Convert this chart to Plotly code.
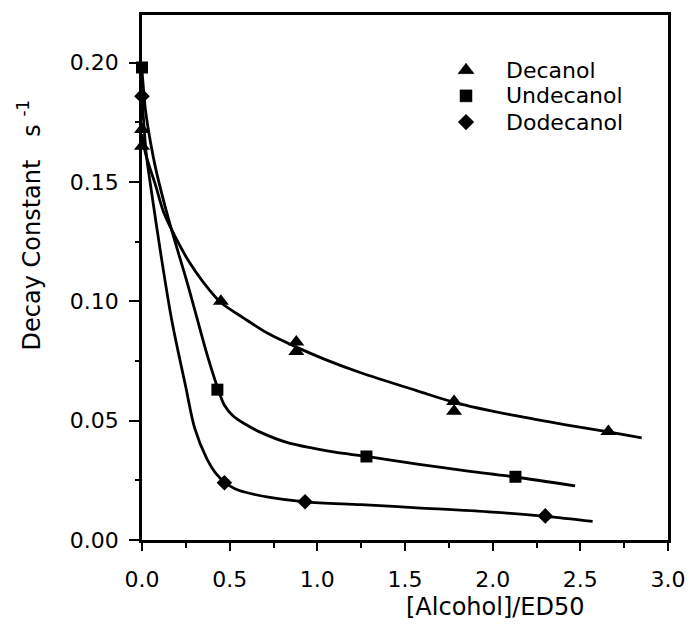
import plotly.graph_objects as go

# Measured decay constants (s^-1) versus relative alcohol concentration
dec_x = [0.0, 0.0, 0.45, 0.88, 0.88, 1.78, 1.78, 2.66]
dec_y = [0.165, 0.172, 0.100, 0.083, 0.079, 0.058, 0.054, 0.0455]

undec_x = [0.0, 0.43, 1.28, 2.13]
undec_y = [0.198, 0.063, 0.035, 0.0265]

dodec_x = [0.0, 0.47, 0.93, 2.30]
dodec_y = [0.186, 0.024, 0.016, 0.0101]

# Smooth fitted curves through each series
dec_fit_x = [0.0, 0.02, 0.08, 0.125, 0.19, 0.265, 0.35, 0.45, 0.58, 0.72, 0.89,
             1.05, 1.24, 1.57, 1.79, 2.10, 2.40, 2.66, 2.85]
dec_fit_y = [0.170, 0.162, 0.148, 0.137, 0.127, 0.117, 0.108, 0.0995, 0.093, 0.0865, 0.0805,
             0.0755, 0.0703, 0.0625, 0.0575, 0.0525, 0.0485, 0.0453, 0.0428]

undec_fit_x = [0.0, 0.02, 0.05, 0.08, 0.153, 0.265, 0.37, 0.435, 0.47, 0.52, 0.59, 0.68,
               0.83, 0.98, 1.10, 1.28, 1.57, 1.85, 2.12, 2.47]
undec_fit_y = [0.197, 0.180, 0.166, 0.155, 0.134, 0.106, 0.078, 0.063, 0.0565, 0.052, 0.0485, 0.045,
               0.0408, 0.0384, 0.0368, 0.0350, 0.0318, 0.029, 0.0265, 0.0227]

dodec_fit_x = [0.0, 0.024, 0.05, 0.107, 0.17, 0.25, 0.30, 0.37, 0.42, 0.47, 0.53, 0.59,
               0.72, 0.93, 1.25, 1.57, 2.00, 2.30, 2.57]
dodec_fit_y = [0.186, 0.162, 0.148, 0.120, 0.092, 0.064, 0.047, 0.034, 0.028, 0.0243, 0.0215, 0.0200,
               0.018, 0.016, 0.0148, 0.0135, 0.0117, 0.0099, 0.0078]

series_names = ["Decanol", "Undecanol", "Dodecanol"]
series_symbols = ["triangle-up", "square", "diamond"]
series_sizes = [14, 12, 12]

FONT = "DejaVu Sans"
INK = "#000000"

fig = go.Figure()

for fx, fy in [(dec_fit_x, dec_fit_y), (undec_fit_x, undec_fit_y), (dodec_fit_x, dodec_fit_y)]:
    fig.add_trace(go.Scatter(
        x=fx, y=fy, mode="lines", showlegend=False, hoverinfo="skip",
        line=dict(color=INK, width=2.8, shape="spline", smoothing=0.9),
    ))

for name, sx, sy, sym, size in zip(series_names, [dec_x, undec_x, dodec_x],
                                   [dec_y, undec_y, dodec_y], series_symbols, series_sizes):
    fig.add_trace(go.Scatter(
        x=sx, y=sy, mode="markers", name=name, cliponaxis=False, showlegend=False,
        marker=dict(symbol=sym, size=size, color=INK, opacity=1, line=dict(width=0)),
    ))

# Key in the upper right: symbols on a hidden unit overlay axis, labels as annotations
key_x_sym = 0.616
key_x_text = 0.688
key_rows = [0.895, 0.846, 0.796]
for sym, size, ry in zip(series_symbols, series_sizes, key_rows):
    fig.add_trace(go.Scatter(
        x=[key_x_sym], y=[ry], mode="markers", xaxis="x2", yaxis="y2",
        showlegend=False, hoverinfo="skip", cliponaxis=False,
        marker=dict(symbol=sym, size=size, color=INK, opacity=1,
                    line=dict(width=0.5, color=INK)),
    ))

axis_common = dict(
    showline=True, linecolor=INK, linewidth=2.5, mirror=True,
    showgrid=False, zeroline=False,
    ticks="outside", tickcolor=INK, tickwidth=2,
    tickfont=dict(family=FONT, size=22, color=INK),
)

fig.update_xaxes(
    range=[0, 3.0], dtick=0.5, tick0=0, tickformat=".1f", ticklen=8,
    ticklabelstandoff=10,
    minor=dict(dtick=0.25, tick0=0, ticks="outside", ticklen=5, tickwidth=2, tickcolor=INK),
    **axis_common,
)
fig.update_yaxes(
    range=[0, 0.22], dtick=0.05, tick0=0, tickformat=".2f", ticklen=10,
    ticklabelstandoff=6,
    minor=dict(dtick=0.025, tick0=0, ticks="outside", ticklen=4, tickwidth=2, tickcolor=INK),
    **axis_common,
)

annotations = [
    dict(
        text="[Alcohol]/ED50", xref="paper", yref="paper",
        x=0.672, y=-0.128, xanchor="center", yanchor="middle",
        showarrow=False, font=dict(family=FONT, size=24, color=INK),
    ),
    dict(
        text="Decay Constant\u00a0\u00a0\u00a0s\u00a0<sup>-1</sup>", xref="paper", yref="paper",
        x=-0.214, y=0.60, xanchor="center", yanchor="middle", textangle=-90,
        showarrow=False, font=dict(family=FONT, size=24, color=INK),
    ),
]
for name, ry in zip(series_names, key_rows):
    annotations.append(dict(
        text=name, xref="paper", yref="paper", x=key_x_text, y=ry,
        xanchor="left", yanchor="middle", showarrow=False,
        font=dict(family=FONT, size=22, color=INK),
    ))

fig.update_layout(
    width=698, height=625,
    margin=dict(l=142, r=24, t=15, b=85),
    paper_bgcolor="white", plot_bgcolor="white",
    font=dict(family=FONT, color=INK),
    showlegend=False,
    xaxis2=dict(overlaying="x", range=[0, 1], visible=False, fixedrange=True),
    yaxis2=dict(overlaying="y", range=[0, 1], visible=False, fixedrange=True),
    annotations=annotations,
)

fig.write_html("out.html")
